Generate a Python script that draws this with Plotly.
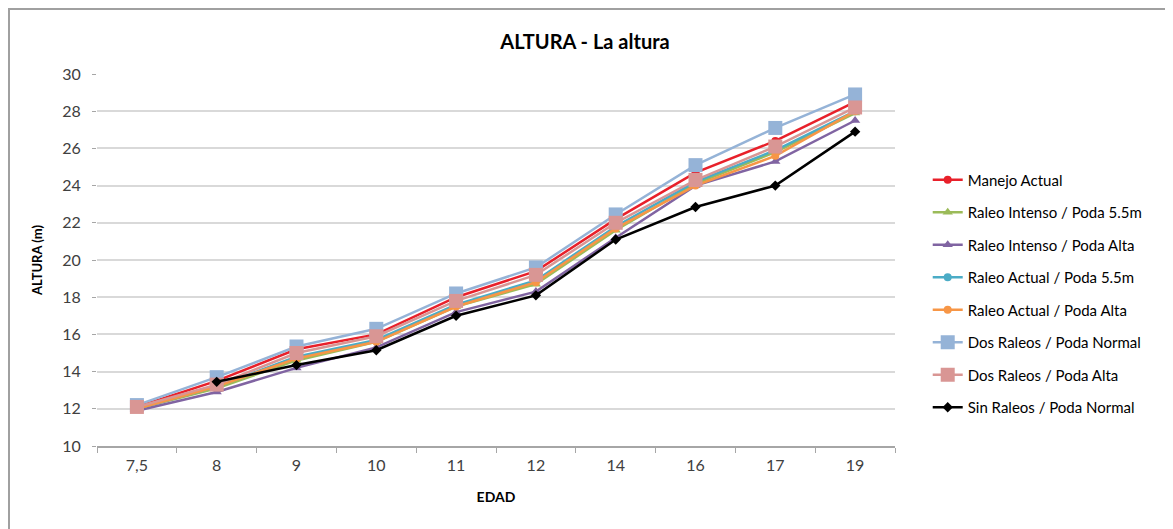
import plotly.graph_objects as go

edad = ["7,5", "8", "9", "10", "11", "12", "14", "16", "17", "19"]

manejo_actual = [12.1, 13.5, 15.2, 16.0, 18.0, 19.4, 22.2, 24.7, 26.4, 28.5]
raleo_int_55 = [12.0, 13.1, 14.6, 15.6, 17.5, 18.7, 21.6, 24.1, 25.8, 27.9]
raleo_int_alta = [11.9, 12.9, 14.2, 15.3, 17.2, 18.3, 21.2, 24.0, 25.3, 27.5]
raleo_act_55 = [12.0, 13.2, 14.8, 15.7, 17.6, 18.9, 21.8, 24.2, 25.9, 28.0]
raleo_act_alta = [12.0, 13.2, 14.7, 15.6, 17.5, 18.8, 21.7, 24.0, 25.6, 28.0]
dos_raleos_normal = [12.2, 13.7, 15.35, 16.3, 18.2, 19.6, 22.45, 25.1, 27.1, 28.9]
dos_raleos_alta = [12.1, 13.3, 15.0, 15.9, 17.8, 19.2, 22.0, 24.3, 26.1, 28.2]
sin_raleos_normal = [None, 13.45, 14.35, 15.15, 17.0, 18.1, 21.1, 22.85, 24.0, 26.9]

y_ticks = [10, 12, 14, 16, 18, 20, 22, 24, 26, 28, 30]

series = [
    ("Manejo Actual", manejo_actual, "#E8202A", "circle", 8),
    ("Raleo Intenso / Poda 5.5m", raleo_int_55, "#9BBB59", "triangle-up", 9),
    ("Raleo Intenso / Poda Alta", raleo_int_alta, "#8064A2", "triangle-up", 9),
    ("Raleo Actual / Poda 5.5m", raleo_act_55, "#4BACC6", "circle", 8),
    ("Raleo Actual / Poda Alta", raleo_act_alta, "#F79646", "circle", 8),
    ("Dos Raleos / Poda Normal", dos_raleos_normal, "#95B3D7", "square", 14),
    ("Dos Raleos / Poda Alta", dos_raleos_alta, "#D99694", "square", 14),
    ("Sin Raleos / Poda Normal", sin_raleos_normal, "#000000", "diamond", 8),
]

FONT = "Lato"

fig = go.Figure()
for i, (name, vals, color, sym, size) in enumerate(series):
    fig.add_trace(go.Scatter(
        x=edad, y=vals, name=name, mode="lines+markers",
        line=dict(color=color, width=2.5),
        marker=dict(color=color, symbol=sym, size=size),
        legendgroup=f"g{i}",
        connectgaps=False,
    ))

# page body has an 8px margin; figure coordinates = screen - 8
W, H = 1165, 521
L, T = 89, 66
R = W - 887
B = H - 438
pw = W - L - R
ph = H - T - B

def px_x(p):
    return (p - L) / pw

def px_y(p):
    return (H - B - p) / ph

fig.update_layout(
    width=W, height=H,
    margin=dict(l=L, r=R, t=T, b=B),
    paper_bgcolor="white", plot_bgcolor="white",
    font=dict(family=FONT, size=14, color="#404040"),
    title=dict(text="<b>ALTURA - La altura</b>", x=577 / W, xanchor="center", xref="container",
               y=1 - 34 / H, yanchor="middle",
               font=dict(family=FONT, size=20, color="#000000")),
    xaxis=dict(
        type="category", categoryorder="array", categoryarray=edad,
        range=[-0.5, len(edad) - 0.5],
        showgrid=False, showline=True, linecolor="#A6A6A6", linewidth=1.5,
        ticks="outside", tickson="boundaries", ticklen=5, tickcolor="#A6A6A6",
        ticklabelstandoff=4,
        tickfont=dict(size=16, color="#404040"),
        title=dict(text="<b>EDAD</b>", font=dict(size=14, color="#000000"), standoff=19),
        zeroline=False,
    ),
    yaxis=dict(
        range=[10, 30], tickvals=y_ticks, showgrid=True, gridcolor="#D9D9D9", gridwidth=1.5,
        showline=False, ticks="outside", ticklen=4, tickcolor="#A6A6A6",
        ticklabelstandoff=8,
        tickfont=dict(size=16, color="#404040"),
        title=dict(text="<b>ALTURA (m)</b>", font=dict(size=13, color="#000000"), standoff=16),
        zeroline=False,
    ),
    legend=dict(
        x=1.041, xanchor="left", y=0.41, yanchor="middle",
        font=dict(size=15, color="#000000"),
        tracegroupgap=10, bgcolor="rgba(0,0,0,0)",
    ),
    showlegend=True,
)

fig.add_shape(type="rect", xref="paper", yref="paper",
              x0=px_x(1), x1=px_x(1158), y0=px_y(560), y1=px_y(1),
              line=dict(color="#A0A0A0", width=2), fillcolor="rgba(0,0,0,0)", layer="below")

fig.write_html("out.html")
